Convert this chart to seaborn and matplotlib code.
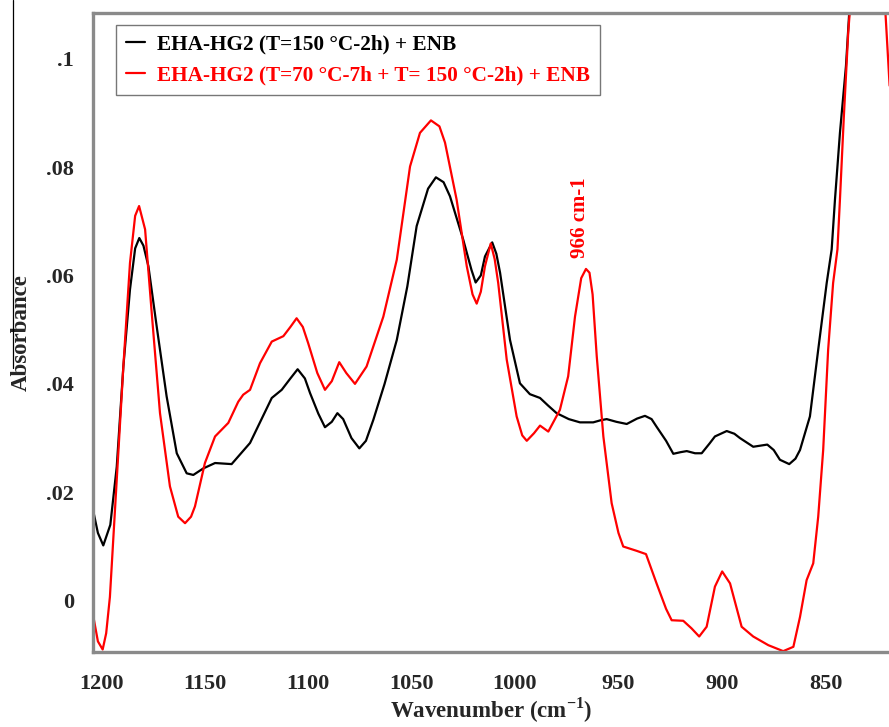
import pandas as pd
import matplotlib.pyplot as plt
import seaborn as sns
from matplotlib.lines import Line2D

# FTIR spectra (wavenumber in cm-1, absorbance)
black_wn = [1204, 1201.5, 1198.9, 1195.5, 1192.4, 1189.2, 1186, 1183.5, 1181.5, 1179.5,
            1177.1, 1173.1, 1168.3, 1163.4, 1158.6, 1155.4, 1150.6, 1144.9, 1136.9, 1128,
            1117.5, 1112.7, 1108.5, 1105, 1101.5, 1099, 1095, 1091.8, 1088.5, 1085.8,
            1083, 1079, 1075.2, 1072, 1068.4, 1063, 1057.1, 1052, 1047.5, 1042,
            1038.2, 1034.5, 1031.4, 1025, 1021, 1019, 1016.5, 1014.5, 1011, 1009,
            1007.2, 1002.4, 997.6, 992.8, 987.9, 984, 979.9, 974, 968.6, 962.2,
            958.5, 955.7, 951, 946, 941, 937.2, 934, 931.6, 927, 923.5,
            920, 917, 913, 909.8, 906, 903.4, 897.7, 894, 891.3, 884.9,
            878.1, 875, 872, 867.5, 864.5, 862.3, 857.5, 853.5, 849.4, 847,
            845.4, 843, 840.1, 839, 837.5, 830, 822, 819]
black_abs = [0.0170, 0.0125, 0.0102, 0.0140, 0.0247, 0.0432, 0.0574, 0.0650, 0.0669, 0.0655,
             0.0617, 0.0506, 0.0377, 0.0272, 0.0235, 0.0232, 0.0244, 0.0254, 0.0252, 0.0291,
             0.0374, 0.0389, 0.0410, 0.0427, 0.0410, 0.0383, 0.0345, 0.0320, 0.0330, 0.0346,
             0.0335, 0.0300, 0.0281, 0.0295, 0.0334, 0.0400, 0.0481, 0.0580, 0.0691, 0.0760,
             0.0781, 0.0772, 0.0746, 0.0666, 0.0610, 0.0587, 0.0600, 0.0635, 0.0661, 0.0640,
             0.0605, 0.0481, 0.0401, 0.0381, 0.0374, 0.0360, 0.0346, 0.0335, 0.0329, 0.0329,
             0.0333, 0.0335, 0.0330, 0.0326, 0.0336, 0.0341, 0.0335, 0.0321, 0.0295, 0.0271,
             0.0274, 0.0276, 0.0272, 0.0272, 0.0290, 0.0303, 0.0313, 0.0308, 0.0300, 0.0284,
             0.0288, 0.0278, 0.0260, 0.0252, 0.0262, 0.0278, 0.0340, 0.0463, 0.0586, 0.0648,
             0.0740, 0.0863, 0.0986, 0.1054, 0.1150, 0.1200, 0.1200, 0.1150]

red_wn = [1204, 1201.5, 1199.2, 1197.5, 1195.7, 1192.4, 1189.2, 1186, 1183.5, 1181.6,
          1178.7, 1175.5, 1171.5, 1166.7, 1162.7, 1159.4, 1156.5, 1154.6, 1149.8, 1144.9,
          1138.5, 1133.7, 1131.3, 1128, 1123.2, 1117.5, 1111.9, 1108.5, 1105.5, 1102.5,
          1099.9, 1095.5, 1091.8, 1088.5, 1084.9, 1081.5, 1077.3, 1071.7, 1063.6, 1057.1,
          1050.7, 1045.9, 1040.6, 1036.5, 1033.8, 1028.2, 1023.3, 1020.5, 1018.5, 1016.5,
          1014.5, 1011.7, 1009.8, 1008.1, 1004, 999.2, 996.5, 994.3, 990.8, 987.9,
          983.9, 978.3, 974.3, 971, 968, 965.7, 964, 962.5, 960.5, 957.3,
          953.3, 950, 947.7, 941.2, 936.7, 931.6, 927, 924.3, 918.7, 914.7,
          911, 907.4, 903.4, 899.9, 896.1, 890.5, 884.9, 877.6, 870.4, 865.5,
          862.3, 859.1, 855.9, 853.5, 851.1, 848.7, 846.3, 844.2, 843, 841.1,
          839, 837, 830, 822, 819]
red_abs = [-0.0023, -0.0075, -0.0090, -0.0060, 0.0007, 0.0223, 0.0432, 0.0623, 0.0710, 0.0728,
           0.0685, 0.0531, 0.0346, 0.0211, 0.0155, 0.0143, 0.0155, 0.0174, 0.0254, 0.0303,
           0.0328, 0.0367, 0.0380, 0.0389, 0.0438, 0.0478, 0.0488, 0.0505, 0.0521, 0.0505,
           0.0475, 0.0420, 0.0389, 0.0405, 0.0440, 0.0420, 0.0400, 0.0432, 0.0524, 0.0629,
           0.0801, 0.0863, 0.0886, 0.0875, 0.0845, 0.0740, 0.0617, 0.0565, 0.0548, 0.0570,
           0.0617, 0.0659, 0.0630, 0.0586, 0.0445, 0.0340, 0.0305, 0.0295, 0.0309, 0.0323,
           0.0312, 0.0352, 0.0414, 0.0524, 0.0595, 0.0612, 0.0605, 0.0565, 0.0451, 0.0303,
           0.0180, 0.0125, 0.0100, 0.0092, 0.0086, 0.0032, -0.0015, -0.0036, -0.0037, -0.0051,
           -0.0066, -0.0048, 0.0026, 0.0054, 0.0032, -0.0048, -0.0066, -0.0082, -0.0093, -0.0085,
           -0.0030, 0.0038, 0.0069, 0.0155, 0.0278, 0.0463, 0.0586, 0.0648, 0.0740, 0.0894,
           0.1048, 0.1150, 0.1200, 0.1150, 0.0950]

labels = ['EHA-HG2 (T=150 °C-2h) + ENB',
          'EHA-HG2 (T=70 °C-7h + T= 150 °C-2h) + ENB']
x_ticks = [1200, 1150, 1100, 1050, 1000, 950, 900, 850]
y_ticks = [0, 0.02, 0.04, 0.06, 0.08, 0.1]
y_ticklabels = ['0', '.02', '.04', '.06', '.08', '.1']
peak_wn, peak_label = 966, '966 cm-1'

sns.set_style('white')
plt.rcParams['font.family'] = ['Liberation Serif', 'DejaVu Serif']
plt.rcParams['font.weight'] = 'bold'
plt.rcParams['mathtext.fontset'] = 'custom'
plt.rcParams['mathtext.rm'] = 'Liberation Serif:bold'
plt.rcParams['mathtext.bf'] = 'Liberation Serif:bold'

black_df = pd.DataFrame({'wn': black_wn, 'abs': black_abs})
red_df = pd.DataFrame({'wn': red_wn, 'abs': red_abs})

fig = plt.figure(figsize=(8.89, 7.27), dpi=100)
ax = fig.add_axes([0.105, 0.1036, 0.895, 0.8792])

sns.lineplot(data=black_df, x='wn', y='abs', color='black', linewidth=1.6, label=labels[0], ax=ax)
sns.lineplot(data=red_df, x='wn', y='abs', color='#ff0000', linewidth=1.6, label=labels[1], ax=ax)

ax.set_xlim(1203.7, 819.3)
ax.set_ylim(-0.0094, 0.1085)
ax.set_xticks(x_ticks)
ax.set_xticklabels([str(t) for t in x_ticks], fontsize=16, fontweight='bold')
ax.set_yticks(y_ticks)
ax.set_yticklabels(y_ticklabels, fontsize=16, fontweight='bold')
ax.tick_params(axis='both', direction='out', length=8, width=1.4, color='#8a8a8a', pad=6)
ax.tick_params(axis='x', pad=8)

for side in ['left', 'bottom', 'top']:
    ax.spines[side].set_color('#8a8a8a')
    ax.spines[side].set_linewidth(2.4)
ax.spines['right'].set_visible(False)

ax.set_xlabel('Wavenumber (cm$^{-1}$)', fontsize=16.5, fontweight='bold', labelpad=1)
ax.set_ylabel('Absorbance', fontsize=16.5, fontweight='bold', labelpad=10)

ax.text(peak_wn + 2.6, 0.0633, peak_label, color='#ff0000', rotation=90,
        ha='center', va='bottom', fontsize=15, fontweight='bold')

leg = ax.legend(loc='upper left', bbox_to_anchor=(0.1305, 0.9656), bbox_transform=fig.transFigure,
                fontsize=15.3, frameon=True, fancybox=False, borderpad=0.45, handlelength=0.9,
                handletextpad=0.6, labelspacing=0.5, borderaxespad=0)
leg.get_frame().set_edgecolor('#555555')
leg.get_frame().set_linewidth(1.0)
for txt, col in zip(leg.get_texts(), ['black', '#ff0000']):
    txt.set_color(col)
    txt.set_fontweight('bold')

# thin border line left over at the far left of the original scan
fig.add_artist(Line2D([12.5 / 889, 12.5 / 889], [1.0, 1 - 368 / 727], color='black', linewidth=0.9))

plt.savefig('out.png', dpi=100)
